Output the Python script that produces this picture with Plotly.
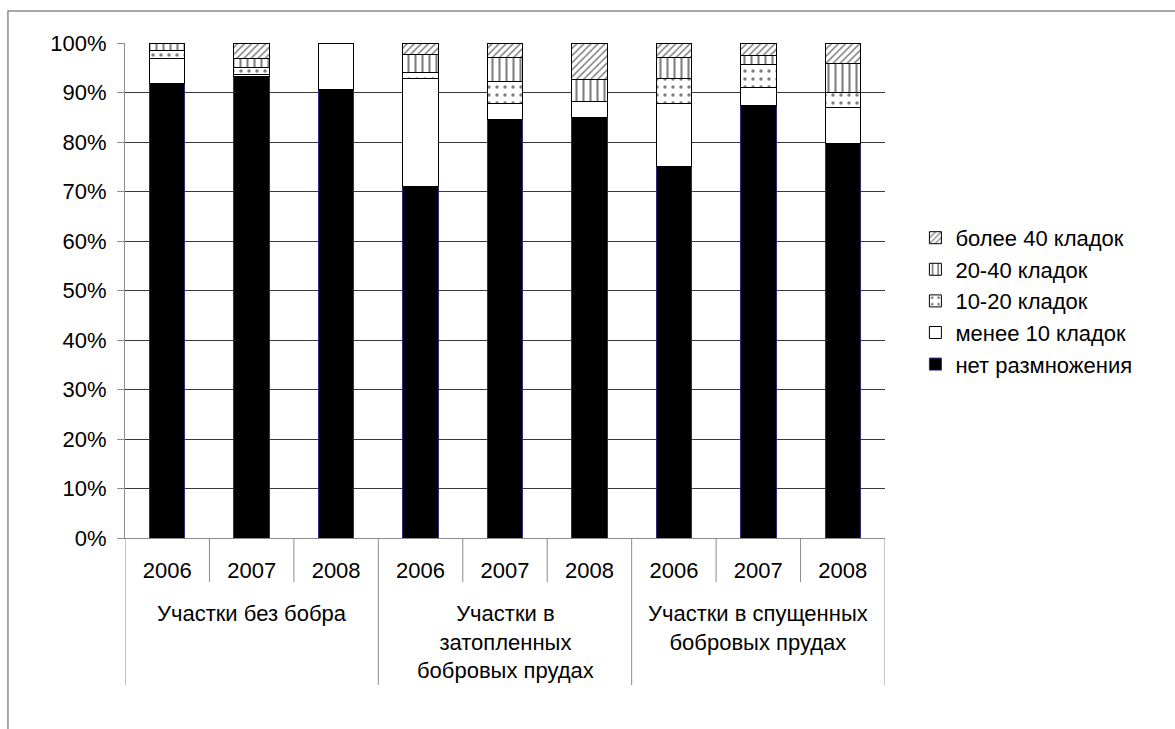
import plotly.graph_objects as go

# Categories: three habitat groups, three years each
groups = ["Участки без бобра", "Участки в<br>затопленных<br>бобровых прудах", "Участки в спущенных<br>бобровых прудах"]
years = ["2006", "2007", "2008", "2006", "2007", "2008", "2006", "2007", "2008"]

# Share of sites (%) by number of egg clutches
no_breeding = [91.9, 93.3, 90.6, 71.0, 84.6, 85.0, 75.0, 87.3, 79.6]
under_10 = [5.0, 0.4, 9.4, 21.9, 3.1, 3.1, 12.7, 3.7, 7.3]
from_10_20 = [1.5, 1.4, 0.0, 1.1, 4.5, 0.0, 5.2, 4.6, 3.1]
from_20_40 = [1.6, 1.7, 0.0, 3.7, 4.8, 4.6, 4.2, 1.8, 5.8]
over_40 = [0.0, 3.2, 0.0, 2.3, 3.0, 7.3, 2.9, 2.6, 4.2]

series = [
    ("нет размножения", no_breeding, "black", "", "#2b2b80"),
    ("менее 10 кладок", under_10, "white", "", "black"),
    ("10-20 кладок", from_10_20, "white", ".", "black"),
    ("20-40 кладок", from_20_40, "white", "|", "black"),
    ("более 40 кладок", over_40, "white", "/", "black"),
]
pattern_style = {"": (8, 0.3), ".": (8, 0.15), "|": (7, 0.3), "/": (5, 0.3)}

FONT = "Liberation Sans, Arial, sans-serif"
FS = 22
xpos = list(range(len(years)))

fig = go.Figure()
for i, (name, vals, fill, shape, edge) in enumerate(series):
    size, solidity = pattern_style[shape]
    fig.add_trace(go.Bar(
        x=xpos, y=vals, name=name, width=0.42,
        legendgroup=f"g{i}",
        marker=dict(
            color=fill,
            line=dict(color=edge, width=1),
            pattern=dict(shape=shape, fgcolor="black", bgcolor="white",
                         size=size, solidity=solidity, fillmode="overlay") if shape else None,
        ),
    ))

# Category axis dividers: short ones between years, long ones between groups
shapes = []
for b in [k - 0.5 for k in range(len(years) + 1)]:
    long_line = b in (-0.5, 2.5, 5.5, 8.5)
    shapes.append(dict(type="line", xref="x", yref="paper", x0=b, x1=b,
                       y0=0, y1=-0.297 if long_line else -0.089,
                       line=dict(color="#8c8c8c", width=1)))
# Chart frame
shapes.append(dict(type="rect", xref="paper", yref="paper",
                   x0=-0.154, x1=1.5, y0=-0.5, y1=1.0646,
                   line=dict(color="#8c8c8c", width=1.5), fillcolor="rgba(0,0,0,0)", layer="below"))

annotations = [
    dict(x=3 * g + 1, y=-0.123, xref="x", yref="paper", text=t, showarrow=False,
         yanchor="top", xanchor="center", font=dict(family=FONT, size=FS, color="black"))
    for g, t in enumerate(groups)
]

fig.update_layout(
    width=1175, height=729,
    margin=dict(l=125, r=290, t=43, b=191),
    paper_bgcolor="white", plot_bgcolor="white",
    barmode="stack",
    font=dict(family=FONT, size=FS, color="black"),
    shapes=shapes, annotations=annotations,
    showlegend=True,
    legend=dict(traceorder="reversed", x=1.04, y=0.479, xanchor="left", yanchor="middle",
                font=dict(family=FONT, size=FS), tracegroupgap=0, itemwidth=30),
    xaxis=dict(range=[-0.5, 8.5], tickvals=xpos, ticktext=years, showgrid=False,
               showline=True, linecolor="#8c8c8c", zeroline=False, ticks="",
               ticklabelstandoff=13, tickfont=dict(family=FONT, size=FS)),
    yaxis=dict(range=[0, 100], dtick=10, ticksuffix="%", showgrid=True,
               gridcolor="#3a3a3a", gridwidth=1, showline=True, linecolor="#8c8c8c",
               ticks="outside", ticklen=7, tickcolor="#8c8c8c", zeroline=False,
               ticklabelstandoff=6, tickfont=dict(family=FONT, size=FS)),
)

fig.write_html("out.html")
